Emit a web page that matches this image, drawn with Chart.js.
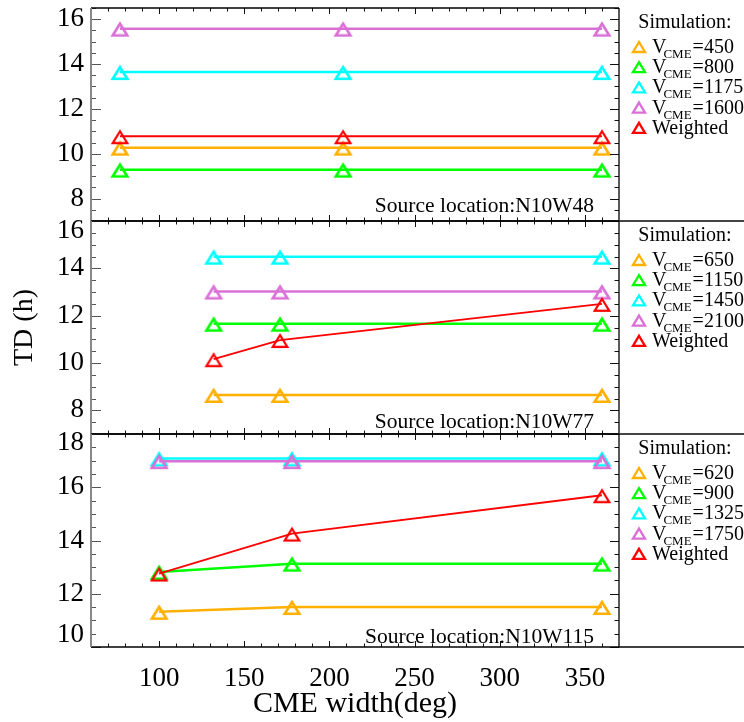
<!DOCTYPE html>
<html>
<head>
<meta charset="utf-8">
<script src="https://cdn.jsdelivr.net/npm/chart.js@4.4.0/dist/chart.umd.min.js"></script>
<style>
  html, body { margin: 0; padding: 0; background: #fff; }
  #wrap { position: relative; width: 744px; height: 722px; }
  #wrap canvas { position: absolute; left: 0; top: 0; }
</style>
</head>
<body>
<div id="wrap">
  <canvas id="panel1" width="744" height="722"></canvas>
  <canvas id="panel2" width="744" height="722"></canvas>
  <canvas id="panel3" width="744" height="722"></canvas>
</div>
<script>
// CME width (deg) of the runs, one list per source location
var widthsW48 = [77, 208, 360];
var widthsW77 = [132, 171, 360];
var widthsW115 = [100, 178, 360];

// TD (h), source location N10W48
var td450 = [10.27, 10.27, 10.27];
var td800 = [9.29, 9.29, 9.29];
var td1175 = [13.64, 13.64, 13.64];
var td1600 = [15.58, 15.58, 15.58];
var tdWeightedW48 = [10.78, 10.78, 10.78];

// TD (h), source location N10W77
var td650 = [8.65, 8.65, 8.65];
var td1150 = [11.66, 11.66, 11.66];
var td1450 = [14.49, 14.49, 14.49];
var td2100 = [13.02, 13.02, 13.02];
var tdWeightedW77 = [10.16, 10.97, 12.5];

// TD (h), source location N10W115
var td620 = [11.32, 11.5, 11.5];
var td900 = [12.82, 13.13, 13.13];
var td1325 = [17.08, 17.08, 17.08];
var td1750 = [16.98, 16.98, 16.98];
var tdWeightedW115 = [12.76, 14.26, 15.7];

// speeds in the legends
var speedsW48 = ['450', '800', '1175', '1600'];
var speedsW77 = ['650', '1150', '1450', '2100'];
var speedsW115 = ['620', '900', '1325', '1750'];

// tick labels
var xTicks = [100, 150, 200, 250, 300, 350];
var yTicksW48 = [8, 10, 12, 14, 16];
var yTicksW77 = [8, 10, 12, 14, 16];
var yTicksW115 = [10, 12, 14, 16, 18];

var simColors = ['#ffb000', '#00ff00', '#00ffff', '#da70d6'];
var weightedColor = '#ff0000';
var serif = '"Liberation Serif", "Times New Roman", serif';

function pts(xs, ys) {
    return xs.map(function(x, i) { return { x: x, y: ys[i] }; });
}

function line(ctx, x1, y1, x2, y2) {
    ctx.beginPath(); ctx.moveTo(x1, y1); ctx.lineTo(x2, y2); ctx.stroke();
}

// open triangle symbol, sitting a little low on its point like the original
function triangleSymbol(color, lw) {
    var c = document.createElement('canvas');
    c.width = 22; c.height = 22;
    var g = c.getContext('2d');
    g.strokeStyle = color;
    g.lineWidth = lw;
    g.lineJoin = 'miter';
    g.beginPath();
    g.moveTo(11, 11 - 5);
    g.lineTo(11 + 7.3, 11 + 6.8);
    g.lineTo(11 - 7.3, 11 + 6.8);
    g.closePath();
    g.stroke();
    return c;
}

function legendTriangle(ctx, cx, cy, color) {
    ctx.beginPath();
    ctx.moveTo(cx, cy - 5);
    ctx.lineTo(cx + 6, cy + 5);
    ctx.lineTo(cx - 6, cy + 5);
    ctx.closePath();
    ctx.strokeStyle = color;
    ctx.lineWidth = 2.3;
    ctx.stroke();
}

// frame, inward ticks, edge labels, source text and side legend
var panelDecor = {
    id: 'panelDecor',
    afterDraw: function(chart, args, o) {
        var ctx = chart.ctx, a = chart.chartArea;
        var xs = chart.scales.x, ys = chart.scales.y;
        ctx.save();

        // x ticks, top and bottom
        ctx.strokeStyle = '#111';
        ctx.lineWidth = 1;
        for (var v = 70; v <= 360; v += 10) {
            var px = Math.round(xs.getPixelForValue(v)) + 0.5;
            var len = v % 50 === 0 ? 6 : 3.5;
            line(ctx, px, a.top, px, a.top + len);
            line(ctx, px, a.bottom, px, a.bottom - len);
        }
        // y ticks, left and right
        for (var k = 0; ys.min + k * 0.5 <= ys.max + 1e-9; k++) {
            var y = ys.min + k * 0.5;
            var py = Math.round(ys.getPixelForValue(y)) + 0.5;
            var big = Math.abs(y % 2) < 1e-9;
            ctx.strokeStyle = '#555';
            line(ctx, a.left, py, a.left + (big ? 10 : 5), py);
            ctx.strokeStyle = '#111';
            line(ctx, a.right, py, a.right - (big ? 9 : 4.5), py);
        }

        // frame
        ctx.strokeStyle = '#000';
        ctx.lineWidth = 1.3;
        line(ctx, a.left, a.top, a.right, a.top);
        line(ctx, a.right, a.top, a.right, a.bottom);
        line(ctx, a.left, a.bottom, a.right, a.bottom);
        ctx.strokeStyle = '#888';
        ctx.lineWidth = 2;
        line(ctx, a.left, a.top, a.left, a.bottom);

        // legend box separator
        ctx.strokeStyle = o.last ? '#000' : '#444';
        ctx.lineWidth = o.last ? 1.3 : 2.2;
        line(ctx, a.right, a.bottom, chart.width, a.bottom);

        // tick labels at the panel edges sit inside the panel
        ctx.fillStyle = '#000';
        ctx.font = '27px ' + serif;
        ctx.textAlign = 'right';
        ctx.textBaseline = 'middle';
        (o.edgeLabels || []).forEach(function(e) {
            ctx.fillText(String(e.v), a.left - 7, ys.getPixelForValue(e.v) + e.shift);
        });

        // source location
        ctx.font = '21.5px ' + serif;
        ctx.textAlign = 'right';
        ctx.textBaseline = 'alphabetic';
        ctx.fillText('Source location:' + o.source, 594, a.bottom - o.sourceOff);

        // legend
        ctx.font = '20px ' + serif;
        ctx.textAlign = 'center';
        ctx.textBaseline = 'middle';
        ctx.fillText('Simulation:', 685, a.top + 15);
        ctx.textAlign = 'left';
        ctx.textBaseline = 'alphabetic';
        var colors = simColors.concat([weightedColor]);
        for (var i = 0; i < 5; i++) {
            var cy = a.top + 39 + 20.2 * i;
            legendTriangle(ctx, 639, cy, colors[i]);
            var tx = 652, base = cy + 6;
            ctx.fillStyle = '#000';
            if (i < 4) {
                ctx.font = '20px ' + serif;
                ctx.fillText('V', tx, base);
                tx += ctx.measureText('V').width - 3;
                ctx.font = '13px ' + serif;
                ctx.fillText('CME', tx, base + 5);
                tx += ctx.measureText('CME').width + 1;
                ctx.font = '20px ' + serif;
                ctx.fillText('=' + o.speeds[i], tx, base);
            } else {
                ctx.font = '20px ' + serif;
                ctx.fillText('Weighted', tx, base);
            }
        }
        ctx.restore();
    }
};

function makePanel(id, cfg) {
    var sims = cfg.sims;
    var datasets = sims.map(function(s, i) {
        return {
            label: 'VCME=' + cfg.speeds[i],
            data: pts(cfg.widths, s),
            borderColor: simColors[i],
            backgroundColor: 'rgba(0,0,0,0)',
            borderWidth: 2.5,
            pointStyle: triangleSymbol(simColors[i], 2.6),
            pointRadius: 8,
            tension: 0,
            order: 4 - i
        };
    });
    datasets.push({
        label: 'Weighted',
        data: pts(cfg.widths, cfg.weighted),
        borderColor: weightedColor,
        backgroundColor: 'rgba(0,0,0,0)',
        borderWidth: 1.8,
        pointStyle: triangleSymbol(weightedColor, 2.2),
        pointRadius: 8,
        tension: 0,
        order: 0
    });

    var hidden = (cfg.edgeLabels || []).map(function(e) { return e.v; });

    return new Chart(document.getElementById(id).getContext('2d'), {
        type: 'line',
        data: { datasets: datasets },
        options: {
            responsive: false,
            animation: false,
            events: [],
            layout: { autoPadding: false, padding: { top: cfg.top, bottom: cfg.bottom, left: 0, right: 125 } },
            plugins: {
                legend: { display: false },
                tooltip: { enabled: false },
                panelDecor: {
                    source: cfg.source, sourceOff: cfg.sourceOff, speeds: cfg.speeds,
                    edgeLabels: cfg.edgeLabels, last: cfg.last
                }
            },
            scales: {
                x: {
                    type: 'linear', min: 60, max: 370,
                    display: !!cfg.last,
                    grid: { display: false, drawTicks: false },
                    border: { display: false },
                    ticks: { autoSkip: false, maxRotation: 0, padding: 16, color: '#000', font: { family: serif, size: 27 } },
                    afterBuildTicks: function(s) { s.ticks = xTicks.map(function(v) { return { value: v }; }); },
                    afterFit: function(s) {
                        if (cfg.last) s.height = 75;
                        s.paddingLeft = 0; s.paddingRight = 0; s.paddingTop = 0; s.paddingBottom = 0;
                    },
                    title: {
                        display: !!cfg.last, text: 'CME width(deg)', color: '#000',
                        font: { family: serif, size: 30 }, padding: { top: 0, bottom: 0 }
                    }
                },
                y: {
                    type: 'linear', min: cfg.yMin, max: cfg.yMax,
                    grid: { display: false, drawTicks: false },
                    border: { display: false },
                    ticks: {
                        padding: 7, color: '#000', font: { family: serif, size: 27 },
                        callback: function(v) { return hidden.indexOf(v) >= 0 ? '' : String(v); }
                    },
                    afterBuildTicks: function(s) { s.ticks = cfg.yTicks.map(function(v) { return { value: v }; }); },
                    afterFit: function(s) {
                        s.width = 91;
                        s.paddingLeft = 0; s.paddingRight = 0; s.paddingTop = 0; s.paddingBottom = 0;
                    },
                    title: {
                        display: !!cfg.yTitle, text: 'TD (h)', color: '#000',
                        font: { family: serif, size: 28 }, padding: { top: 8, bottom: 0 }
                    }
                }
            }
        },
        plugins: [panelDecor]
    });
}

document.addEventListener('DOMContentLoaded', function() {
    makePanel('panel1', {
        widths: widthsW48, sims: [td450, td800, td1175, td1600], weighted: tdWeightedW48,
        speeds: speedsW48, yMin: 7, yMax: 16.5, yTicks: yTicksW48,
        top: 8, bottom: 501, source: 'N10W48', sourceOff: 9
    });
    makePanel('panel2', {
        widths: widthsW77, sims: [td650, td1150, td1450, td2100], weighted: tdWeightedW77,
        speeds: speedsW77, yMin: 7, yMax: 16, yTicks: yTicksW77,
        top: 221, bottom: 288, source: 'N10W77', sourceOff: 6, yTitle: true,
        edgeLabels: [{ v: 16, shift: 10 }]
    });
    makePanel('panel3', {
        widths: widthsW115, sims: [td620, td900, td1325, td1750], weighted: tdWeightedW115,
        speeds: speedsW115, yMin: 10, yMax: 18, yTicks: yTicksW115,
        top: 434, bottom: 0, source: 'N10W115', sourceOff: 4, last: true,
        edgeLabels: [{ v: 18, shift: 9 }, { v: 10, shift: -12 }]
    });
});
</script>
</body>
</html>
